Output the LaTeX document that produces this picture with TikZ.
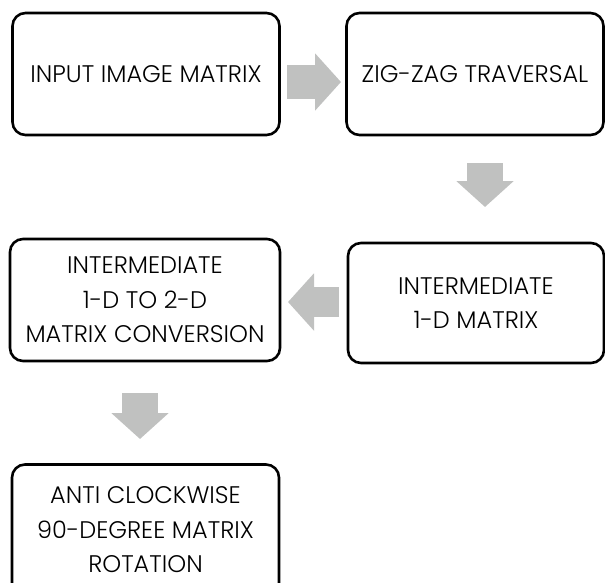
\documentclass[tikz,border=0pt]{standalone}
\usepackage{fontspec}
\setmainfont{Poppins Light}
\usetikzlibrary{arrows.meta}
\definecolor{flowgrey}{RGB}{192,193,192}

\begin{document}
\begin{tikzpicture}
[x=1pt, y=-1pt,
% STYLES
every node/.style={font=\fontsize{24}{34.5}\selectfont},
% The stage style is used to draw the processing steps
stage/.style={rectangle, draw, line width=2.6pt, rounded corners=13pt, align=center, inner sep=0pt},
% The flow style draws the grey block arrows
flow/.style={draw=flowgrey, line width=34pt, -{Triangle[length=26pt, width=56pt]}}]

\useasboundingbox (0,0) rectangle (605,582);

% Draw stages
\node [stage, minimum width=267pt, minimum height=122pt] (input) at (146,74) {INPUT IMAGE MATRIX};
\node [stage, minimum width=257pt, minimum height=122pt] (zigzag) at (475,74) {ZIG-ZAG TRAVERSAL};
\node [stage, minimum width=256pt, minimum height=120pt] (oned) at (476,303) {INTERMEDIATE\\1-D MATRIX};
\node [stage, minimum width=270pt, minimum height=122pt] (convert) at (145,300) {INTERMEDIATE\\1-D TO 2-D\\MATRIX CONVERSION};
\node [stage, minimum width=267pt, minimum height=131pt] (rotate) at (145.5,530) {ANTI CLOCKWISE\\90-DEGREE MATRIX\\ROTATION};

% Draw flow arrows
\coordinate (a1) at (287,82);
\coordinate (b1) at (341,82);
\coordinate (a2) at (485,163);
\coordinate (b2) at (485,207);
\coordinate (a3) at (339,302);
\coordinate (b3) at (288,302);
\coordinate (a4) at (140,393);
\coordinate (b4) at (140,439);
\draw [flow] (a1) -- (b1);
\draw [flow, line width=36pt] (a2) -- (b2);
\draw [flow, line width=30pt] (a3) -- (b3);
\draw [flow, line width=36pt] (a4) -- (b4);

\end{tikzpicture}
\end{document}
